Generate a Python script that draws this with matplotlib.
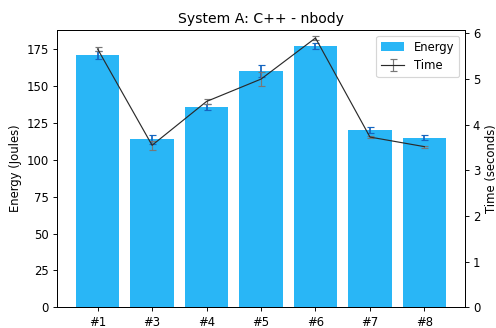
import matplotlib
matplotlib.use("Agg")
import matplotlib.pyplot as plt
import numpy as np

# Benchmark runs
labels = ["#1", "#3", "#4", "#5", "#6", "#7", "#8"]
energy = [171, 114, 136, 160, 177, 120, 115]
energy_err = [3, 3, 2, 4, 2, 2, 1.5]
time_s = [5.66, 3.55, 4.51, 5.0, 5.9, 3.73, 3.52]
time_err = [0.05, 0.1, 0.05, 0.15, 0.05, 0.02, 0.02]

DPI = 84
fig = plt.figure(figsize=(496 / DPI, 328 / DPI), dpi=DPI)
ax = fig.add_subplot(111)
fig.subplots_adjust(left=0.1155, right=0.937, bottom=0.063, top=0.9085)

inds = np.arange(len(labels))
bars = ax.bar(inds, energy, 0.8, yerr=energy_err, color="#29b6f6",
              ecolor="#1565c0", capsize=3, label="Energy")
ax.set_ylabel("Energy (Joules)")
ax.set_xticks(inds)
ax.set_xticklabels(labels)
ax.set_title("System A: C++ - nbody")

ax2 = ax.twinx()
line = ax2.errorbar(inds, time_s, yerr=time_err, color="#2a2a2a",
                    ecolor="#777777", capsize=3, linewidth=1, label="Time")
ax2.set_ylim(bottom=0)
ax2.set_ylabel("Time (seconds)", labelpad=3.5)

ax2.legend([bars, line], ["Energy", "Time"], loc="upper right")

fig.savefig("out.png", dpi=DPI)
